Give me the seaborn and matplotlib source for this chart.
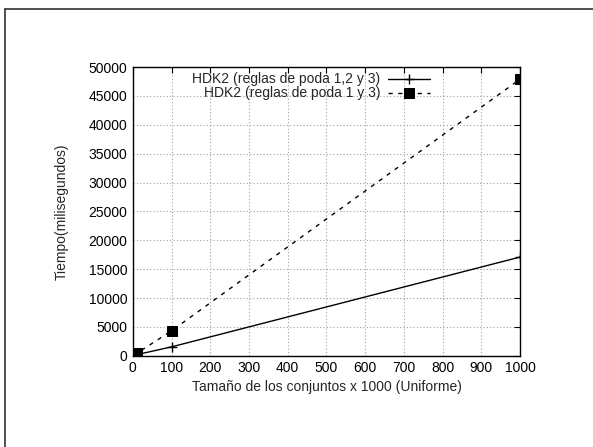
import numpy as np
import pandas as pd
import matplotlib
matplotlib.use("Agg")
import matplotlib.pyplot as plt
from matplotlib.lines import Line2D
import seaborn as sns

# datos
tamanos = [1, 10, 100, 1000]
tiempo_123 = [30, 200, 1550, 17100]
tiempo_13 = [50, 430, 4330, 47900]
etiqueta_123 = "HDK2 (reglas de poda 1,2 y 3)"
etiqueta_13 = "HDK2 (reglas de poda 1 y 3)"

sns.set_theme(style="white")
plt.rcParams['font.family'] = ['Liberation Sans', 'DejaVu Sans']
plt.rcParams['font.size'] = 10

fig = plt.figure(figsize=(5.93, 4.47), dpi=100)
ax = fig.add_axes([0.224, 0.204, 0.653, 0.646])

# borde del recorte (arriba e izquierda)
fig.add_artist(Line2D([4.5 / 593, 4.5 / 593], [0, 1 - 8.5 / 447], color='#333333', lw=1.2))
fig.add_artist(Line2D([4.5 / 593, 1], [1 - 8.5 / 447, 1 - 8.5 / 447], color='#333333', lw=1.2))

df1 = pd.DataFrame({'x': tamanos, 'y': tiempo_123})
df2 = pd.DataFrame({'x': tamanos, 'y': tiempo_13})

sns.lineplot(data=df1, x='x', y='y', ax=ax, color='black', lw=1.0,
             marker='+', markersize=7, markeredgewidth=1.0,
             markeredgecolor='black', label=etiqueta_123)
sns.lineplot(data=df2, x='x', y='y', ax=ax, color='black', lw=1.0,
             linestyle=(0, (3, 4)), marker='s', markersize=7,
             markeredgecolor='black', label=etiqueta_13)

ax.set_xlim(0, 1000)
ax.set_ylim(0, 50000)
ax.set_xticks(np.arange(0, 1001, 100))
ax.set_yticks(np.arange(0, 50001, 5000))
ax.grid(True, color='#a0a0a0', linestyle=(0, (1, 2)), lw=0.8)
ax.tick_params(direction='in', length=4, width=0.8, top=True, right=True,
               labelsize=10, colors='black', pad=4)
for s in ax.spines.values():
    s.set_color('black')
    s.set_linewidth(1.0)

ax.set_xlabel("Tamaño de los conjuntos x 1000 (Uniforme)", fontsize=10, labelpad=3)
ax.set_ylabel("Tiempo(milisegundos)", fontsize=10, labelpad=14)

leg = ax.legend(loc='upper center', bbox_to_anchor=(0.46, 1.01), frameon=False,
                markerfirst=False, fontsize=10, handlelength=3.0,
                borderaxespad=0.2, labelspacing=0.0, handletextpad=0.6)
for t in leg.get_texts():
    t.set_ha('right')
vp = leg._legend_box.get_children()[1]
vp.align = 'right'
for c in vp.get_children():
    c.align = 'right'

fig.savefig("out.png", dpi=100)
